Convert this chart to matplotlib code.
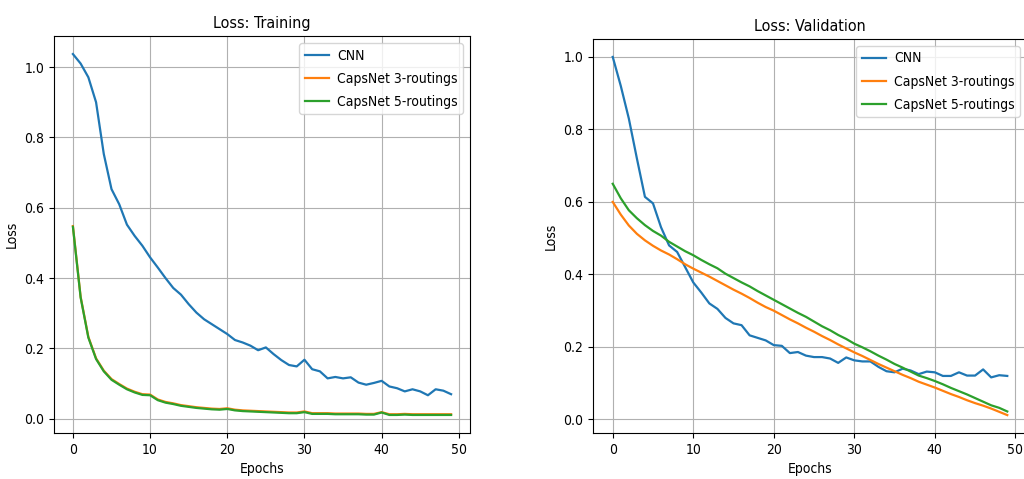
import matplotlib
matplotlib.use("Agg")
import matplotlib.pyplot as plt
import numpy as np

plt.rcParams["font.family"] = "DejaVu Sans"
plt.rcParams["font.stretch"] = "condensed"

epochs = np.arange(50)

train_cnn = [1.037, 1.010, 0.971, 0.900, 0.753, 0.653, 0.610, 0.552, 0.520, 0.492,
             0.459, 0.430, 0.400, 0.372, 0.353, 0.326, 0.302, 0.283, 0.269, 0.255,
             0.241, 0.224, 0.217, 0.208, 0.195, 0.203, 0.184, 0.167, 0.153, 0.149,
             0.168, 0.141, 0.135, 0.115, 0.119, 0.115, 0.118, 0.103, 0.097, 0.102,
             0.108, 0.092, 0.087, 0.078, 0.084, 0.078, 0.067, 0.084, 0.080, 0.070]
train_caps3 = [0.548, 0.347, 0.233, 0.172, 0.137, 0.113, 0.099, 0.086, 0.077, 0.070,
               0.069, 0.055, 0.048, 0.044, 0.039, 0.036, 0.033, 0.031, 0.029, 0.028,
               0.030, 0.026, 0.024, 0.023, 0.022, 0.021, 0.020, 0.019, 0.018, 0.018,
               0.021, 0.016, 0.016, 0.016, 0.015, 0.015, 0.015, 0.015, 0.014, 0.014,
               0.019, 0.013, 0.013, 0.014, 0.013, 0.013, 0.013, 0.013, 0.013, 0.013]
train_caps5 = [0.546, 0.345, 0.231, 0.170, 0.135, 0.111, 0.097, 0.084, 0.075, 0.068,
               0.067, 0.053, 0.046, 0.042, 0.037, 0.034, 0.031, 0.029, 0.027, 0.026,
               0.028, 0.024, 0.022, 0.021, 0.020, 0.019, 0.018, 0.017, 0.016, 0.016,
               0.019, 0.014, 0.014, 0.014, 0.013, 0.013, 0.013, 0.013, 0.012, 0.012,
               0.018, 0.011, 0.011, 0.012, 0.011, 0.011, 0.011, 0.011, 0.011, 0.011]

val_cnn = [1.000, 0.920, 0.830, 0.720, 0.614, 0.596, 0.530, 0.480, 0.462, 0.420,
           0.378, 0.350, 0.320, 0.305, 0.280, 0.265, 0.260, 0.232, 0.225, 0.218,
           0.205, 0.203, 0.183, 0.186, 0.176, 0.172, 0.172, 0.168, 0.156, 0.171,
           0.163, 0.160, 0.160, 0.145, 0.133, 0.130, 0.140, 0.135, 0.125, 0.132,
           0.130, 0.120, 0.120, 0.130, 0.121, 0.121, 0.138, 0.116, 0.122, 0.120]
val_caps3 = [0.600, 0.565, 0.535, 0.512, 0.494, 0.479, 0.466, 0.455, 0.442, 0.428,
             0.416, 0.405, 0.394, 0.382, 0.370, 0.358, 0.347, 0.335, 0.322, 0.310,
             0.300, 0.288, 0.276, 0.265, 0.253, 0.242, 0.230, 0.219, 0.207, 0.196,
             0.185, 0.175, 0.164, 0.153, 0.143, 0.133, 0.123, 0.114, 0.104, 0.096,
             0.088, 0.079, 0.070, 0.062, 0.053, 0.045, 0.038, 0.030, 0.021, 0.012]
val_caps5 = [0.650, 0.610, 0.577, 0.555, 0.536, 0.520, 0.507, 0.490, 0.477, 0.464,
             0.453, 0.440, 0.428, 0.417, 0.402, 0.390, 0.378, 0.367, 0.354, 0.342,
             0.330, 0.318, 0.306, 0.294, 0.283, 0.270, 0.257, 0.246, 0.233, 0.222,
             0.209, 0.199, 0.188, 0.176, 0.165, 0.153, 0.143, 0.132, 0.121, 0.114,
             0.106, 0.097, 0.087, 0.078, 0.069, 0.059, 0.049, 0.039, 0.032, 0.022]

labels = ["CNN", "CapsNet 3-routings", "CapsNet 5-routings"]

W, H = 1024, 479
fig = plt.figure(figsize=(W / 100, H / 100), dpi=100)
ax1 = fig.add_axes([54 / W, 46 / H, 416 / W, 397 / H])
ax2 = fig.add_axes([593 / W, 46 / H, 434 / W, 394 / H])


def draw(ax, series, title):
    for s, lab in zip(series, labels):
        ax.plot(epochs, s, label=lab, linewidth=1.6)
    ax.set_title(title, fontsize=11.5)
    ax.set_xlabel("Epochs", fontsize=10)
    ax.set_ylabel("Loss", fontsize=10)
    ax.tick_params(labelsize=10)
    ax.set_xticks([0, 10, 20, 30, 40, 50])
    ax.grid(True)
    ax.legend(fontsize=10, handlelength=1.7, handletextpad=0.6,
              labelspacing=0.65, borderpad=0.4)


draw(ax1, [train_cnn, train_caps3, train_caps5], "Loss: Training")
draw(ax2, [val_cnn, val_caps3, val_caps5], "Loss: Validation")

plt.savefig("out.png", dpi=100)
